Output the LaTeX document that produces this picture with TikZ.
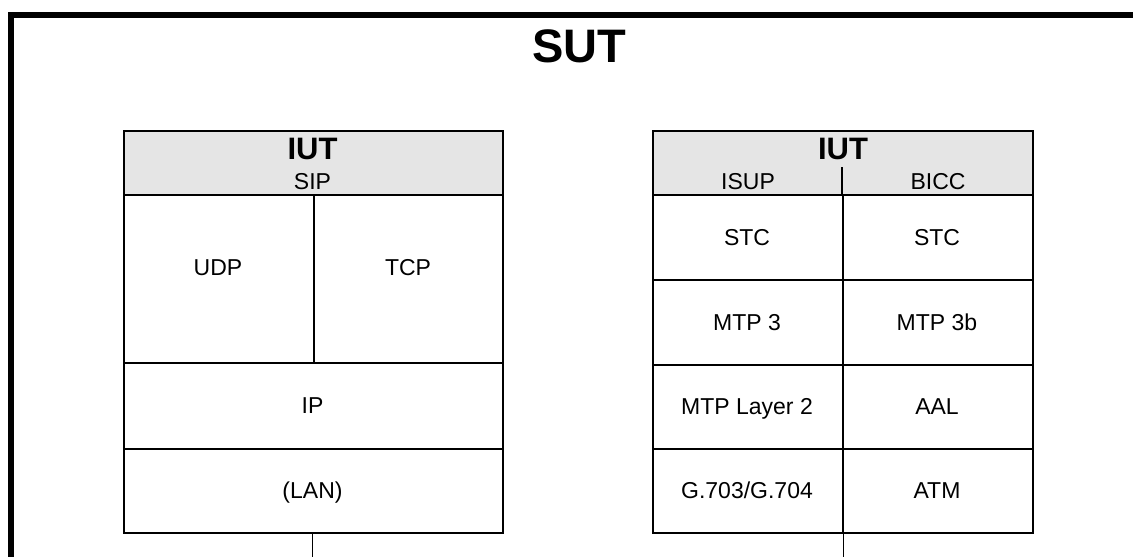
\documentclass[tikz,border=0pt]{standalone}
\usepackage{fontspec}
\setmainfont{Liberation Sans}
\begin{document}
\begin{tikzpicture}[x=1pt,y=-1pt,
  cell/.style={draw=black, line width=1.8pt, inner sep=0pt, anchor=north west},
  hdr/.style={cell, fill=black!10},
  lbl/.style={inner sep=0pt, text height=16.5pt, text depth=0pt, font=\fontsize{23}{25}\selectfont},
  iutlbl/.style={inner sep=0pt, text height=22.2pt, text depth=0pt, font=\fontsize{31}{32}\selectfont\bfseries},
  link/.style={draw=black, line width=1pt}
]
\useasboundingbox (0,0) rectangle (1133,557);
% SUT frame
\draw[line width=6pt, line join=miter] (11,565) -- (11,15) -- (1140,15);
\node[inner sep=0pt, text height=33.7pt, text depth=0pt, font=\fontsize{47}{48}\selectfont\bfseries] (sut) at (579,45.5) {SUT};

% Left IUT (SIP)
\node[hdr, minimum width=379pt, minimum height=64pt] (lhdr) at (123,130) {};
\node[iutlbl] (liut) at (312.5,148) {IUT};
\node[lbl] (sip) at (312.5,181.5) {SIP};
\node[cell, minimum width=190pt, minimum height=168pt] (udp) at (123,194) {};
\node[cell, minimum width=189pt, minimum height=168pt] (tcp) at (313,194) {};
\node[lbl] at (218,267) {UDP};
\node[lbl] at (408,267) {TCP};
\node[cell, minimum width=379pt, minimum height=86pt] (ip) at (123,362) {};
\node[lbl] at (312.5,405) {IP};
\node[cell, minimum width=379pt, minimum height=84pt] (lan) at (123,448) {};
\node[lbl] at (312.5,490) {(LAN)};
\coordinate (lend) at (312,560);
\draw[link] (lan.south -| lend) -- (lend);

% Right IUT (ISUP / BICC)
\node[hdr, minimum width=380pt, minimum height=64pt] (rhdr) at (652,130) {};
\node[iutlbl] (riut) at (843,148) {IUT};
\coordinate (hdiv) at (842,167);
\draw[line width=1.3pt] (hdiv) -- (hdiv |- rhdr.south);
\node[lbl] (isup) at (748,181.5) {ISUP};
\node[lbl] (bicc) at (938,181.5) {BICC};

\node[cell, minimum width=190pt, minimum height=85pt] (stca) at (652,194) {};
\node[cell, minimum width=190pt, minimum height=85pt] (stcb) at (842,194) {};
\node[cell, minimum width=190pt, minimum height=85pt] (mtpa) at (652,279) {};
\node[cell, minimum width=190pt, minimum height=85pt] (mtpb) at (842,279) {};
\node[cell, minimum width=190pt, minimum height=84pt] (l2a) at (652,364) {};
\node[cell, minimum width=190pt, minimum height=84pt] (l2b) at (842,364) {};
\node[cell, minimum width=190pt, minimum height=84pt] (ga) at (652,448) {};
\node[cell, minimum width=190pt, minimum height=84pt] (gb) at (842,448) {};

\node[lbl] at (747,237) {STC};
\node[lbl] at (937,237) {STC};
\node[lbl] at (747,322) {MTP 3};
\node[lbl] at (937,322) {MTP 3b};
\node[lbl] at (747,406) {MTP Layer 2};
\node[lbl] at (937,406) {AAL};
\node[lbl] at (747,490) {G.703/G.704};
\node[lbl] at (937,490) {ATM};

\coordinate (rend) at (843,560);
\draw[link] (ga.south east -| rend) -- (rend);
\end{tikzpicture}
\end{document}
